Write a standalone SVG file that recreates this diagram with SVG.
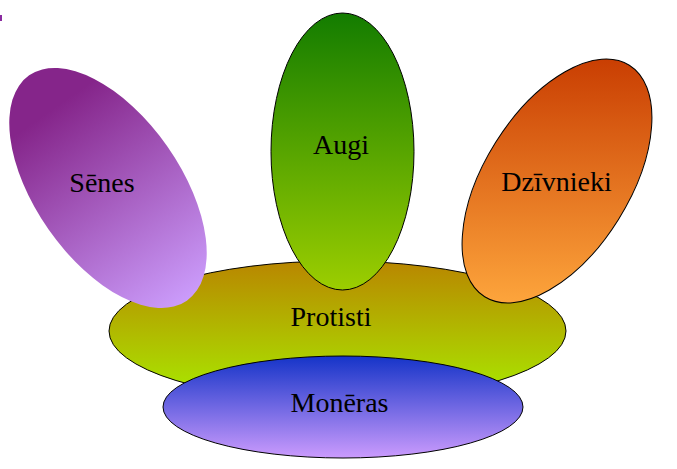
<svg xmlns="http://www.w3.org/2000/svg" width="677" height="469" viewBox="0 0 677 469">
<style>
text{font-family:"Liberation Serif","Times New Roman",serif;font-size:28px;fill:#000;text-anchor:middle}
.o{stroke:#000;stroke-width:1}
</style>
<defs>
<linearGradient id="gP" x1="0" y1="0" x2="0" y2="1"><stop offset="0" stop-color="#B98600"/><stop offset="1" stop-color="#A8EC00"/></linearGradient>
<linearGradient id="gS" x1="0" y1="0" x2="0" y2="1"><stop offset="0.15" stop-color="#85258A"/><stop offset="1" stop-color="#CB9CFB"/></linearGradient>
<linearGradient id="gA" x1="0" y1="0" x2="0" y2="1"><stop offset="0" stop-color="#137C00"/><stop offset="1" stop-color="#9CCE00"/></linearGradient>
<linearGradient id="gD" gradientUnits="userSpaceOnUse" x1="492" y1="77" x2="622" y2="285"><stop offset="0" stop-color="#C93E02"/><stop offset="1" stop-color="#FDA53C"/></linearGradient>
<linearGradient id="gM" x1="0" y1="0" x2="0" y2="1"><stop offset="0" stop-color="#1534C8"/><stop offset="1" stop-color="#CB9BFD"/></linearGradient>
</defs>
<rect x="0" y="15" width="2" height="6" fill="#8A2BA0"/>
<g id="connectors"/>
<g id="protisti">
<ellipse class="o" cx="337.5" cy="331" rx="228.5" ry="70" fill="url(#gP)"/>
<text x="331" y="326">Protisti</text>
</g>
<g id="senes">
<ellipse cx="108" cy="188" rx="72.5" ry="137.5" transform="rotate(-35 108 188)" fill="url(#gS)"/>
<text x="102" y="192">Sēnes</text>
</g>
<g id="augi">
<ellipse class="o" cx="342.5" cy="151.5" rx="71.5" ry="138.5" fill="url(#gA)"/>
<text x="341" y="154">Augi</text>
</g>
<g id="dzivnieki">
<ellipse class="o" cx="557" cy="181" rx="72.5" ry="136.5" transform="rotate(32 557 181)" fill="url(#gD)"/>
<text x="556.5" y="191">Dzīvnieki</text>
</g>
<g id="moneras">
<ellipse class="o" cx="343" cy="407" rx="180" ry="51" fill="url(#gM)"/>
<text x="339.5" y="412">Monēras</text>
</g>
</svg>
